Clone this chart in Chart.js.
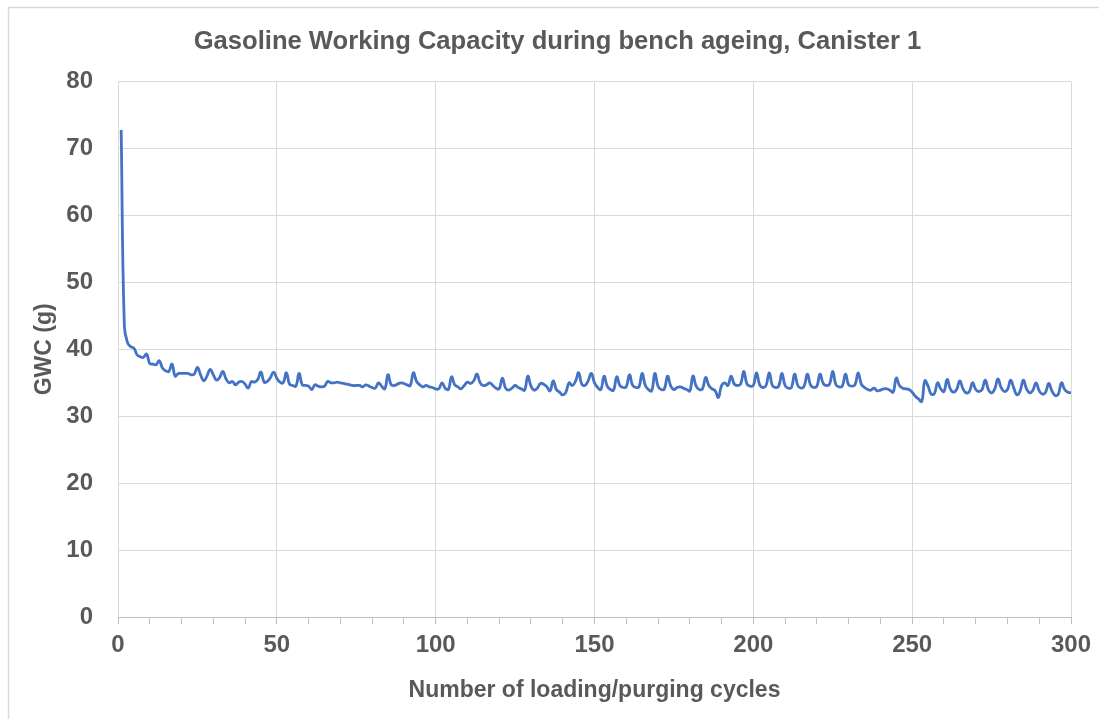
<!DOCTYPE html>
<html>
<head>
<meta charset="utf-8">
<script src="https://cdn.jsdelivr.net/npm/chart.js@4.4.1/dist/chart.umd.min.js"></script>
<style>
  html, body { margin: 0; padding: 0; background: #fff; }
  #wrap { position: relative; width: 1099px; height: 719px; }
</style>
</head>
<body>
<div id="wrap"><canvas id="gwcChart" width="1099" height="719"></canvas></div>
<script>
var chartTitle = 'Gasoline Working Capacity during bench ageing, Canister 1';
var xTitle = 'Number of loading/purging cycles';
var yTitle = 'GWC (g)';
var xMin = 0, xMax = 300, xMajor = 50, xMinor = 10;
var yMin = 0, yMax = 80, yStep = 10;

// GWC per cycle, cycles 1..300
var gwc = [
  72.8, 43.5, 41.0, 40.4, 40.2, 39.2, 38.9, 38.8, 39.3, 37.9,
  37.8, 37.7, 38.3, 37.2, 36.8, 36.7, 37.8, 36.0, 36.4, 36.4,
  36.4, 36.4, 36.2, 36.3, 37.3, 36.2, 35.3, 36.0, 37.0, 36.2,
  35.4, 35.8, 36.7, 35.6, 35.0, 35.2, 34.7, 35.1, 35.2, 34.8,
  34.2, 35.2, 35.1, 35.5, 36.6, 35.1, 35.2, 35.8, 36.6, 35.7,
  35.1, 35.0, 36.5, 34.8, 34.6, 34.5, 36.4, 34.7, 34.6, 34.5,
  34.0, 34.7, 34.5, 34.4, 34.5, 35.2, 35.0, 35.0, 35.1, 35.0,
  34.9, 34.8, 34.7, 34.6, 34.6, 34.6, 34.4, 34.7, 34.5, 34.3,
  34.2, 35.0, 34.5, 34.1, 36.2, 34.7, 34.6, 34.8, 35.0, 34.9,
  34.7, 34.6, 36.5, 35.2, 34.7, 34.4, 34.6, 34.4, 34.3, 34.1,
  34.1, 35.0, 34.2, 34.0, 35.9, 34.7, 34.4, 34.1, 34.6, 35.1,
  34.9, 35.3, 36.3, 35.0, 34.6, 34.7, 35.0, 34.6, 34.2, 34.1,
  35.7, 34.2, 33.9, 34.2, 34.6, 34.3, 34.1, 33.9, 36.0, 34.5,
  33.9, 34.2, 34.9, 34.8, 34.4, 33.8, 35.3, 34.0, 33.6, 33.2,
  33.6, 35.0, 34.6, 35.2, 36.5, 34.8, 34.6, 35.3, 36.4, 35.0,
  34.3, 34.0, 36.0, 34.5, 34.0, 33.9, 35.9, 34.6, 34.3, 34.4,
  36.2, 34.6, 34.3, 34.4, 36.4, 34.6, 34.0, 33.8, 36.4, 34.5,
  34.0, 34.1, 36.0, 34.5, 34.0, 34.3, 34.4, 34.2, 34.0, 33.8,
  36.0, 34.5, 34.0, 34.1, 35.8, 34.6, 34.1, 33.8, 32.8, 34.6,
  35.0, 34.6, 36.0, 34.8, 34.6, 34.8, 36.7, 34.8, 34.5, 34.6,
  36.5, 34.7, 34.3, 34.6, 36.5, 34.6, 34.3, 34.5, 36.4, 34.6,
  34.2, 34.3, 36.3, 34.6, 34.2, 34.5, 36.3, 34.7, 34.3, 34.5,
  36.3, 34.9, 34.6, 34.8, 36.7, 34.7, 34.4, 34.5, 36.3, 34.7,
  34.5, 34.7, 36.5, 34.8, 34.3, 34.0, 33.9, 34.2, 33.8, 33.9,
  34.1, 34.1, 33.9, 33.6, 35.7, 34.6, 34.2, 34.1, 34.0, 33.6,
  33.0, 32.6, 32.2, 35.3, 34.5, 33.3, 33.4, 35.0, 34.1, 33.7,
  35.5, 34.1, 33.6, 34.0, 35.3, 34.1, 33.5, 33.7, 35.0, 34.0,
  33.7, 34.0, 35.4, 34.0, 33.5, 34.1, 35.6, 34.3, 33.7, 34.0,
  35.4, 34.2, 33.2, 33.8, 35.4, 34.1, 33.5, 33.9, 35.0, 33.8,
  33.3, 33.6, 34.9, 33.8, 33.1, 33.3, 35.0, 34.0, 33.6, 33.5
];

var points = gwc.map(function(v, i) { return { x: i + 1, y: v }; });

var textColor = '#595959';
var gridColor = '#d9d9d9';
var fontFamily = "'Liberation Sans', Arial, sans-serif";
var tickFont = { family: fontFamily, size: 24, weight: 'bold' };
var axisTitleFont = { family: fontFamily, size: 23, weight: 'bold' };
var titleFont = { family: fontFamily, size: 25.6, weight: 'bold' };

// light frame along the top and left edge, like the outer chart box
var framePlugin = {
    id: 'frame',
    beforeDraw: function(chart) {
        var c = chart.ctx;
        c.save();
        c.strokeStyle = '#d9d9d9';
        c.lineWidth = 1.5;
        c.beginPath();
        c.moveTo(8.5, 719);
        c.lineTo(8.5, 7.5);
        c.lineTo(1099, 7.5);
        c.stroke();
        c.restore();
    }
};

var ctx = document.getElementById('gwcChart');
new Chart(ctx, {
    type: 'line',
    data: {
        datasets: [{
            label: yTitle,
            data: points,
            borderColor: '#4472C4',
            borderWidth: 2.8,
            pointRadius: 0,
            fill: false,
            tension: 0.45
        }]
    },
    options: {
        responsive: false,
        animation: false,
        layout: { padding: { left: 44, right: 28, top: 0, bottom: 0 } },
        plugins: {
            legend: { display: false },
            tooltip: { enabled: false },
            title: {
                display: true,
                text: chartTitle,
                color: textColor,
                font: titleFont,
                padding: { top: 26.5, bottom: 24.5 }
            }
        },
        scales: {
            x: {
                type: 'linear',
                min: xMin,
                max: xMax,
                afterFit: function(s) { s.height = 102; },
                afterBuildTicks: function(s) {
                    var t = [];
                    for (var v = xMin; v <= xMax; v += xMinor) t.push({ value: v });
                    s.ticks = t;
                },
                ticks: {
                    autoSkip: false,
                    maxRotation: 0,
                    color: textColor,
                    font: tickFont,
                    padding: 7,
                    callback: function(v) { return v % xMajor === 0 ? v : ''; }
                },
                grid: {
                    color: function(c) { return c.tick && c.tick.value % xMajor === 0 ? gridColor : 'rgba(0,0,0,0)'; },
                    tickColor: '#bfbfbf',
                    tickLength: 7
                },
                border: { color: '#bfbfbf' },
                title: {
                    display: true,
                    text: xTitle,
                    color: textColor,
                    font: axisTitleFont,
                    padding: { top: 0, bottom: 15 }
                }
            },
            y: {
                min: yMin,
                max: yMax,
                afterFit: function(s) { s.width = 74; },
                ticks: {
                    stepSize: yStep,
                    color: textColor,
                    font: tickFont,
                    padding: 25
                },
                grid: { color: gridColor, drawTicks: false },
                border: { display: false },
                title: {
                    display: true,
                    text: yTitle,
                    color: textColor,
                    font: axisTitleFont,
                    padding: { top: -13, bottom: 0 }
                }
            }
        }
    },
    plugins: [framePlugin]
});
</script>
</body>
</html>
